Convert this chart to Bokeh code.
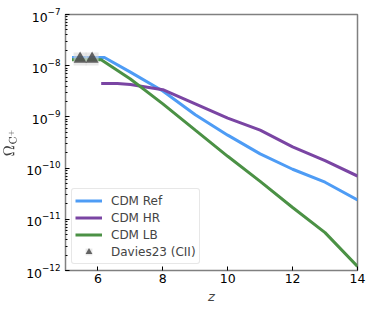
from bokeh.plotting import figure
from bokeh.embed import file_html
from bokeh.resources import INLINE
from bokeh.models import Legend, LegendItem, FixedTicker, LogTicker

# data
z_ref = [5.2, 6.2, 7, 8, 9, 10, 11, 12, 13, 14]
omega_ref = [1.45e-8, 1.45e-8, 7.5e-9, 3.2e-9, 1.1e-9, 4.4e-10, 1.9e-10, 9.5e-11, 5.3e-11, 2.4e-11]

z_hr = [6.1, 6.6, 7, 8, 9, 10, 11, 12, 13, 14]
omega_hr = [4.5e-9, 4.5e-9, 4.3e-9, 3.4e-9, 1.8e-9, 9.5e-10, 5.5e-10, 2.6e-10, 1.4e-10, 7.0e-11]

z_lb = [5.2, 6.1, 7, 8, 9, 10, 11, 12, 13, 14]
omega_lb = [1.3e-8, 1.3e-8, 5.5e-9, 1.8e-9, 5.5e-10, 1.7e-10, 5.5e-11, 1.7e-11, 5.5e-12, 1.2e-12]

z_obs = [5.45, 5.82]
omega_obs = [1.35e-8, 1.35e-8]

x_ticks = [6, 8, 10, 12, 14]

FONT = "DejaVu Sans"

p = figure(frame_width=292, frame_height=256, x_range=(5, 14), y_range=(1e-12, 1e-7),
           y_axis_type="log", output_backend="svg", toolbar_location=None,
           min_border_left=55, min_border_right=9, min_border_top=14, min_border_bottom=20)

p.xgrid.visible = False
p.ygrid.visible = False
p.outline_line_color = "#808080"
p.outline_line_width = 1.5

r_ref = p.line(z_ref, omega_ref, line_color="#4e9cf5", line_width=3)
r_hr = p.line(z_hr, omega_hr, line_color="#7a45a3", line_width=3)
r_lb = p.line(z_lb, omega_lb, line_color="#4b9145", line_width=3)
r_bg = p.scatter(z_obs, omega_obs, marker="square", size=13, fill_color="#d9d9d9",
                 line_color=None, fill_alpha=0.6)
r_obs = p.scatter(z_obs, omega_obs, marker="triangle", size=13, fill_color="#404040",
                  line_color=None, fill_alpha=0.8)

p.xaxis.ticker = FixedTicker(ticks=x_ticks, minor_ticks=[])
p.yaxis.ticker = LogTicker(num_minor_ticks=10)
for ax in (p.xaxis[0], p.yaxis[0]):
    ax.axis_line_color = None
    ax.major_tick_in = 4
    ax.major_tick_out = 0
    ax.minor_tick_in = 2
    ax.minor_tick_out = 0
    ax.major_tick_line_color = "black"
    ax.minor_tick_line_color = "black"
    ax.major_label_text_font = FONT
    ax.major_label_text_font_size = "12.5px"
    ax.major_label_text_color = "black"
    ax.axis_label_text_font = FONT
    ax.axis_label_text_font_size = "13px"
    ax.axis_label_text_font_style = "normal"
p.xaxis.minor_tick_line_color = None
p.xaxis.axis_label = "z"
p.xaxis.axis_label_text_font_style = "italic"
p.xaxis.major_label_standoff = 3
p.xaxis.axis_label_standoff = 3
p.yaxis.axis_label = r"$$\Omega_{\mathrm{C}^+}$$"

legend = Legend(items=[
    LegendItem(label="CDM Ref", renderers=[r_ref]),
    LegendItem(label="CDM HR", renderers=[r_hr]),
    LegendItem(label="CDM LB", renderers=[r_lb]),
    LegendItem(label="Davies23 (CII)", renderers=[r_bg, r_obs]),
], location="bottom_left")
legend.label_text_font = FONT
legend.label_text_font_size = "12px"
legend.label_height = 17
legend.glyph_height = 17
legend.glyph_width = 27
legend.label_standoff = 9
legend.spacing = 0
legend.padding = 3
legend.margin = 6
legend.border_line_color = "#d0d0d0"
legend.border_radius = 3
legend.background_fill_alpha = 0.8
p.add_layout(legend)

open("out.html", "w").write(file_html(p, INLINE))
